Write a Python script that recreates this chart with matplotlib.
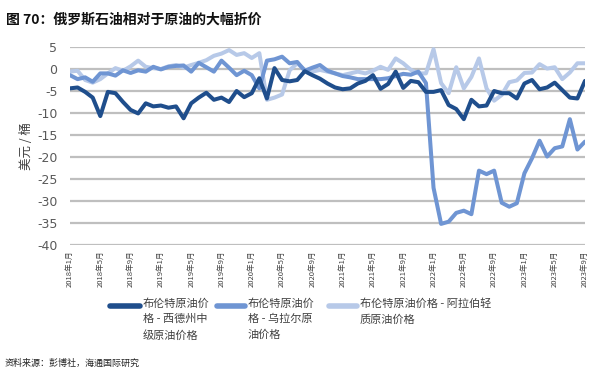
import matplotlib
matplotlib.use("Agg")
import matplotlib.pyplot as plt
from matplotlib.lines import Line2D

plt.rcParams['font.family'] = ['Noto Sans CJK SC', 'DejaVu Sans']
plt.rcParams['axes.unicode_minus'] = False

# ---- data ----
tick_labels = ["2018年1月", "2018年5月", "2018年9月", "2019年1月", "2019年5月", "2019年9月",
               "2020年1月", "2020年5月", "2020年9月", "2021年1月", "2021年5月", "2021年9月",
               "2022年1月", "2022年5月", "2022年9月", "2023年1月", "2023年5月", "2023年9月"]

wti = [-4.4, -4.2, -5.2, -6.5, -10.7, -5.2, -5.5, -7.5, -9.3, -10.1,
       -7.8, -8.5, -8.3, -8.8, -8.5, -11.2, -7.8, -6.5, -5.4, -7.0,
       -6.5, -7.5, -5.0, -6.4, -5.5, -2.1, -6.7, 0.2, -2.5, -2.8,
       -2.5, -0.5, -1.4, -2.2, -3.3, -4.2, -4.6, -4.4, -3.3, -2.7,
       -1.4, -4.5, -3.4, -0.6, -4.3, -2.7, -3.0, -5.2, -5.2, -4.8,
       -8.2, -9.1, -11.4, -7.0, -8.5, -8.3, -5.0, -5.5, -5.5, -6.7,
       -3.3, -2.5, -4.6, -4.2, -3.1, -4.8, -6.5, -6.7, -2.7]

urals = [-1.4, -2.3, -1.9, -2.9, -1.0, -1.0, -1.5, -0.3, -0.9, -0.3,
         -0.6, 0.5, -0.1, 0.5, 0.7, 0.8, -0.6, 1.4, 0.4, -0.6,
         1.9, 0.3, -1.4, -0.4, -1.4, -4.4, 1.9, 2.2, 2.8, 1.3,
         1.6, -0.4, 0.3, 0.9, -0.4, -1.0, -1.6, -1.9, -2.3, -2.3,
         -2.3, -2.3, -2.1, -1.6, -1.1, -1.3, -0.6, -3.2, -27.0, -35.2,
         -34.7, -32.7, -32.2, -33.0, -23.1, -23.9, -23.1, -30.4, -31.3, -30.5,
         -23.7, -20.3, -16.3, -19.9, -18.0, -17.6, -11.4, -18.3, -16.5]

arab_light = [-0.6, -0.4, -2.5, -3.1, -2.3, -1.0, 0.2, -0.4, 0.6, 1.9,
              0.5, 0.2, 0.0, 0.6, 0.9, 0.3, 0.9, 1.4, 2.0, 3.0,
              3.5, 4.3, 3.2, 3.6, 2.5, 3.6, -7.0, -6.5, -5.8, -0.3,
              1.3, -0.2, -0.6, -0.2, -0.6, -1.0, -1.4, -1.0, -0.6, -1.0,
              -0.4, 0.5, -0.2, 2.4, 1.3, -0.2, -1.0, -1.0, 4.5, -3.2,
              -5.5, 0.4, -4.4, -1.8, 2.4, -4.4, -7.2, -5.9, -3.0, -2.6,
              -0.9, -0.8, 1.1, 0.1, 0.4, -2.3, -0.8, 1.3, 1.3]

series_names = ["布伦特原油价\n格 - 西德州中\n级原油价格",
                "布伦特原油价\n格 - 乌拉尔原\n油价格",
                "布伦特原油价格 - 阿拉伯轻\n质原油价格"]
colors = ["#1f4e8c", "#6f95d3", "#b7c9e8"]

# ---- figure ----
fig = plt.figure(figsize=(5.98, 3.76), dpi=100)
ax = fig.add_axes([70/598, 1-245/376, (585-70)/598, (245-47)/376])

x = list(range(len(wti)))
ax.plot(x, arab_light, color=colors[2], lw=2.9, solid_capstyle='round', zorder=3)
ax.plot(x, urals, color=colors[1], lw=2.9, solid_capstyle='round', zorder=4)
ax.plot(x, wti, color=colors[0], lw=2.9, solid_capstyle='round', zorder=5)

ax.set_xlim(0, len(wti) - 1)
ax.set_ylim(-40, 5)
ax.set_yticks(range(-40, 6, 5))
ax.set_yticklabels([str(v) for v in range(-40, 6, 5)], family='DejaVu Sans',
                   fontsize=9, color='#595959')
ax.set_xticks(range(0, len(wti), 4))
ax.set_xticklabels(tick_labels, rotation=90, fontsize=5.5, color='#404040', va='top')
ax.tick_params(axis='both', length=0)
ax.tick_params(axis='y', pad=9)
ax.tick_params(axis='x', pad=4)
ax.grid(axis='y', color='#bfbfbf', lw=1.6, zorder=0)
ax.set_axisbelow(True)
for s in ax.spines.values():
    s.set_visible(False)

ax.set_ylabel("美元 / 桶", fontsize=9, color='#404040', labelpad=3)

# title
fig.text(6/598, 1-20/376, "图 70：俄罗斯石油相对于原油的大幅折价", fontsize=10,
         fontweight='bold', va='center', ha='left', color='#111111')

# legend (manual)
leg_items = [(110, 140, 143), (217, 245, 248), (329, 357, 360)]
for (x0, x1, xt), name, c in zip(leg_items, series_names, colors):
    ly = 1 - 306/376
    fig.add_artist(Line2D([x0/598, x1/598], [ly, ly], transform=fig.transFigure,
                          color=c, lw=4, solid_capstyle='round'))
    fig.text(xt/598, 1 - 298/376, name, fontsize=8, va='top', ha='left',
             color='#404040', linespacing=1.65)

# source
fig.text(5/598, 1-363/376, "资料来源：彭博社，海通国际研究", fontsize=6.5,
         va='center', ha='left', color='#222222')

fig.savefig("out.png", dpi=100)
